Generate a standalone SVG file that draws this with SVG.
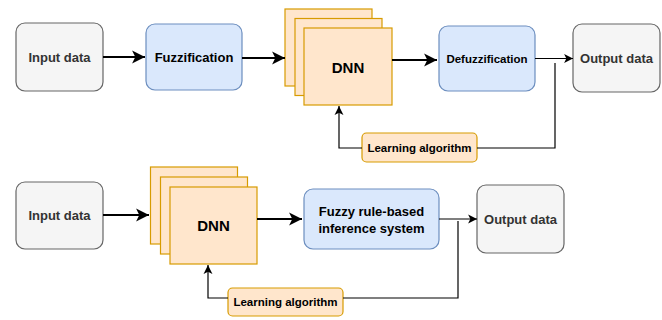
<svg xmlns="http://www.w3.org/2000/svg" width="662" height="320" viewBox="0 0 662 320">
  <style>
    .io { fill: #f5f5f5; stroke: #666666; stroke-width: 1.2; }
    .fz { fill: #dae8fc; stroke: #6c8ebf; stroke-width: 1.2; }
    .nn { fill: #ffe6cc; stroke: #d79b00; stroke-width: 1.2; }
    text { font-family: "Liberation Sans", Arial, sans-serif; font-weight: bold; text-anchor: middle; dominant-baseline: central; fill: #000000; }
    .gray { fill: #333333; font-size: 13px; }
    .t13 { font-size: 13px; }
    .t11 { font-size: 11.5px; }
    .big { font-size: 15px; }
    .thick { fill: none; stroke: #000000; stroke-width: 2; }
    .thin { fill: none; stroke: #000000; stroke-width: 1.2; }
  </style>
  <defs>
    <marker id="headBig" markerUnits="userSpaceOnUse" markerWidth="14" markerHeight="14" refX="12" refY="6" orient="auto" viewBox="0 0 13 12">
      <path d="M0,0 L12,6 L0,12 L3,6 Z" fill="#000000"/>
    </marker>
    <marker id="headSmall" markerUnits="userSpaceOnUse" markerWidth="10" markerHeight="10" refX="8" refY="4" orient="auto" viewBox="0 0 9 8">
      <path d="M0,0 L8,4 L0,8 L2,4 Z" fill="#000000"/>
    </marker>
  </defs>

  <!-- upper pipeline -->
  <g id="input-top">
    <rect class="io" x="16" y="23" width="87" height="68" rx="9"/>
    <text class="gray" x="59.5" y="57">Input data</text>
  </g>
  <g id="fuzzification">
    <rect class="fz" x="146" y="24" width="96" height="66" rx="9"/>
    <text class="t13" x="194" y="57">Fuzzification</text>
  </g>
  <g id="dnn-top">
    <rect class="nn" x="285" y="9" width="87" height="77"/>
    <rect class="nn" x="295" y="18.5" width="87" height="77"/>
    <rect class="nn" x="304" y="28" width="88" height="77"/>
    <text class="big" x="348" y="67">DNN</text>
  </g>
  <g id="defuzzification">
    <rect class="fz" x="439" y="26" width="96" height="65" rx="9"/>
    <text class="t11" x="487" y="58.5">Defuzzification</text>
  </g>
  <g id="output-top">
    <rect class="io" x="573" y="24" width="87" height="68" rx="9"/>
    <text class="gray" x="616.5" y="58">Output data</text>
  </g>
  <g id="learning-top">
    <rect class="nn" x="362" y="133" width="115" height="29" rx="4.5"/>
    <text class="t11" x="419.5" y="147.5">Learning algorithm</text>
  </g>

  <!-- lower pipeline -->
  <g id="input-bottom">
    <rect class="io" x="16" y="182" width="87" height="67" rx="9"/>
    <text class="gray" x="59.5" y="215.5">Input data</text>
  </g>
  <g id="dnn-bottom">
    <rect class="nn" x="150.5" y="167" width="87" height="77"/>
    <rect class="nn" x="160.5" y="177" width="87" height="77"/>
    <rect class="nn" x="170" y="187" width="87" height="77"/>
    <text class="big" x="213.5" y="225.5">DNN</text>
  </g>
  <g id="fuzzy-inference">
    <rect class="fz" x="304" y="189" width="135" height="60" rx="9"/>
    <text class="t13" x="371.5" y="211.5">Fuzzy rule-based</text>
    <text class="t13" x="371.5" y="228">inference system</text>
  </g>
  <g id="output-bottom">
    <rect class="io" x="477" y="185" width="87" height="68" rx="9"/>
    <text class="gray" x="520.5" y="219">Output data</text>
  </g>
  <g id="learning-bottom">
    <rect class="nn" x="228" y="288" width="115" height="28" rx="4.5"/>
    <text class="t11" x="285.5" y="302">Learning algorithm</text>
  </g>

  <!-- connectors -->
  <g id="connectors">
    <path class="thick" d="M103,57 H145" marker-end="url(#headBig)"/>
    <path class="thick" d="M242,58 H285" marker-end="url(#headBig)"/>
    <path class="thick" d="M392,60 H437" marker-end="url(#headBig)"/>
    <path class="thin" d="M535,58.5 H573" marker-end="url(#headSmall)"/>
    <path class="thin" d="M477,148 H555 V63"/>
    <path class="thin" d="M362,148 H339 V106" marker-end="url(#headSmall)"/>

    <path class="thick" d="M103,215 H149" marker-end="url(#headBig)"/>
    <path class="thick" d="M257,219 H302" marker-end="url(#headBig)"/>
    <path class="thin" d="M439,219 H477" marker-end="url(#headSmall)"/>
    <path class="thin" d="M343,298 H458 V221"/>
    <path class="thin" d="M228,298 H208 V265" marker-end="url(#headSmall)"/>
  </g>
</svg>
